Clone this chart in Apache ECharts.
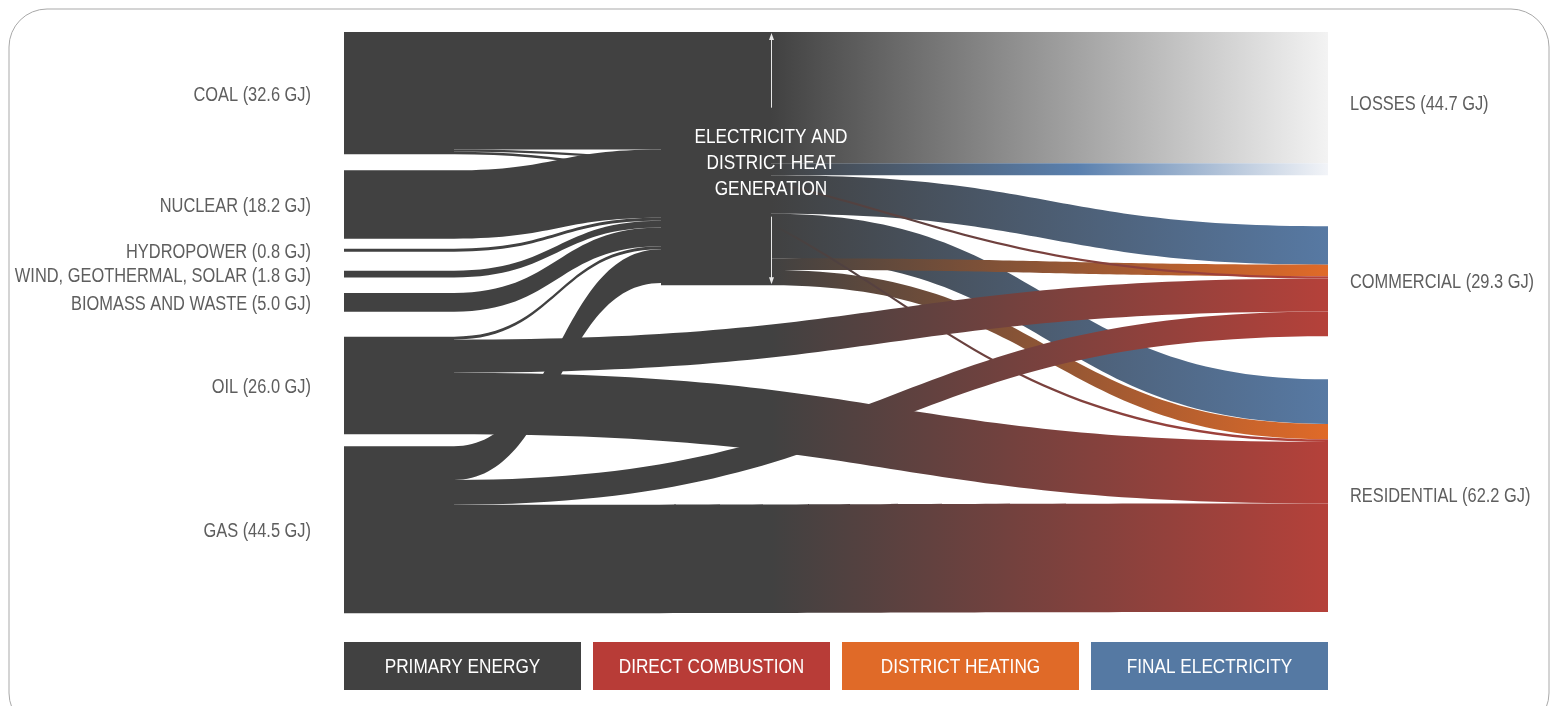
<!DOCTYPE html>
<html><head><meta charset="utf-8">
<script src="https://cdn.jsdelivr.net/npm/echarts@6/dist/echarts.min.js"></script>
<style>html,body{margin:0;padding:0;background:#fff}#c{width:1558px;height:706px}</style>
</head><body><div id="c"></div>
<script>
// ---------------- data (GJ) ----------------
const sources = ['COAL', 'NUCLEAR', 'HYDROPOWER', 'WIND, GEOTHERMAL, SOLAR', 'BIOMASS AND WASTE', 'OIL', 'GAS'];
const sourceLabelValues = [32.6, 18.2, 0.8, 1.8, 5.0, 26.0, 44.5];
const toGeneration  = [31.3, 18.2, 0.8, 1.8, 5.0, 0.8, 9.0];
const toCommercial  = [0.6, 0, 0, 0, 0, 8.8, 6.6];
const toResidential = [0.7, 0, 0, 0, 0, 16.4, 28.9];
const hubLabel = ['ELECTRICITY AND', 'DISTRICT HEAT', 'GENERATION'];
const sinks = ['LOSSES', 'COMMERCIAL', 'RESIDENTIAL'];
const sinkLabelValues = [44.7, 29.3, 62.2];
const generationLosses = [35.0, 3.2];        // conversion losses, electricity losses
const generationElectricity = [10.2, 11.9];  // commercial, residential
const generationHeat = [3.1, 4.1];           // commercial, residential
const legendNames = ['PRIMARY ENERGY', 'DIRECT COMBUSTION', 'DISTRICT HEATING', 'FINAL ELECTRICITY'];

// ---------------- styles / layout ----------------
const DARK = '#414141', RED = '#b5413a', ORANGE = '#e06a28', BLUE = '#5779a3';
const legendColors = [DARK, '#b83c37', '#e06a28', '#5579a3'];
const FONT = "'Liberation Sans', Arial, sans-serif";
const NARROW = 0.82;            // horizontal squeeze to mimic the condensed face
const TEXT_GREY = '#5e5e5e';
const L = 344, T = 32, W = 984, H = 492, NW = 110, GAP = 1;
const HUB_RIGHT = 771;
const leftGaps = [16, 10, 19, 15.5, 25, 12];
const LOSS_GAP = 51, GROUP_GAP = 43;
const LEFT_LABEL_X = 311, RIGHT_LABEL_X = 1350;

// ---------------- links ----------------
const links = [];
const kinds = [];
sources.forEach((s, i) => { if (toGeneration[i] > 0) { links.push({source: s, target: 'HUB', value: toGeneration[i]}); kinds.push('gen'); } });
links.push({source: 'HUB', target: 'LOSSES', value: generationLosses[0]}); kinds.push('loss');
links.push({source: 'HUB', target: 'LOSSES', value: generationLosses[1]}); kinds.push('lossE');
links.push({source: 'HUB', target: 'COM_E', value: generationElectricity[0]}); kinds.push('elec');
links.push({source: 'HUB', target: 'RES_E', value: generationElectricity[1]}); kinds.push('elec');
links.push({source: 'HUB', target: 'COM_H', value: generationHeat[0]}); kinds.push('heat');
links.push({source: 'HUB', target: 'RES_H', value: generationHeat[1]}); kinds.push('heat');
sources.forEach((s, i) => {
  if (toCommercial[i] > 0) { links.push({source: s, target: 'COM_D', value: toCommercial[i]}); kinds.push('direct'); }
  if (toResidential[i] > 0) { links.push({source: s, target: 'RES_D', value: toResidential[i]}); kinds.push('direct'); }
});

// node values like echarts: max(in, out)
const inSum = {}, outSum = {};
links.forEach(l => { outSum[l.source] = (outSum[l.source] || 0) + l.value; inSum[l.target] = (inSum[l.target] || 0) + l.value; });
const val = n => Math.max(inSum[n] || 0, outSum[n] || 0);

const rightLayoutOrder = ['LOSSES', 'COM_E', 'RES_E', 'COM_H', 'RES_H', 'COM_D', 'RES_D'];
const rightRenderOrder = ['LOSSES', 'COM_E', 'COM_H', 'COM_D', 'RES_E', 'RES_H', 'RES_D'];
const columns = [sources, ['HUB'], rightLayoutOrder];
const ky = Math.min(...columns.map(col => (H - (col.length - 1) * GAP) / col.reduce((a, n) => a + val(n), 0)));

const tops = {};
let y = T;
sources.forEach((s, i) => { tops[s] = y; y += val(s) * ky + (leftGaps[i] || 0); });
tops.HUB = T;
y = T;
rightRenderOrder.forEach(n => {
  tops[n] = y; y += val(n) * ky;
  if (n === 'LOSSES') y += LOSS_GAP;
  if (n === 'COM_D') y += GROUP_GAP;
});

const nodes = [];
sources.forEach(s => nodes.push({
  name: s, depth: 0, localX: 0, localY: (tops[s] - T) / H,
  itemStyle: {color: DARK, borderWidth: 0}
}));
nodes.push({
  name: 'HUB', depth: 1, localX: (HUB_RIGHT - NW - L) / W, localY: 0,
  itemStyle: {color: DARK, borderWidth: 0}
});
rightLayoutOrder.forEach(n => nodes.push({
  name: n, depth: 2, localX: 1, localY: (tops[n] - T) / H,
  itemStyle: {color: 'rgba(0,0,0,0)', borderWidth: 0}
}));

// gradients
const x1Direct = L + NW, x2Right = L + W;
const darkStop = (HUB_RIGHT - x1Direct) / (x2Right - x1Direct);
const grad = stops => ({type: 'linear', x: 0, y: 0, x2: 1, y2: 0, colorStops: stops.map(s => ({offset: s[0], color: s[1]}))});
const linkColor = {
  gen: DARK,
  loss: grad([[0, DARK], [1, '#f3f3f3']]),
  lossE: grad([[0, DARK], [0.55, '#5a80ae'], [1, '#f2f4f8']]),
  elec: grad([[0, DARK], [1, BLUE]]),
  heat: grad([[0, DARK], [1, ORANGE]]),
  direct: grad([[0, DARK], [darkStop, DARK], [1, RED]])
};
links.forEach((l, i) => { l.lineStyle = {color: linkColor[kinds[i]], opacity: 1}; });

// ---------------- text, annotation arrow, legend, frame ----------------
const textEl = (txt, x, yy, size, color, align) => ({
  type: 'text', x: x, y: yy, scaleX: NARROW, z: 200,
  style: {text: txt, x: 0, y: 0, font: size + 'px ' + FONT, fill: color, align: align, verticalAlign: 'middle'}
});
const graphics = [
  {type: 'rect', shape: {x: 9, y: 9, width: 1540, height: 722, r: 38}, style: {fill: 'none', stroke: '#a9a9a9', lineWidth: 1}, z: 0}
];
sources.forEach((s, i) => {
  graphics.push(textEl(s + ' (' + sourceLabelValues[i].toFixed(1) + ' GJ)', LEFT_LABEL_X, tops[s] + val(s) * ky / 2 + 2, 20, TEXT_GREY, 'right'));
});
const sinkGroups = [['LOSSES'], ['COM_E', 'COM_H', 'COM_D'], ['RES_E', 'RES_H', 'RES_D']];
sinks.forEach((s, i) => {
  const g = sinkGroups[i];
  const gh = g.reduce((a, m) => a + val(m), 0) * ky;
  graphics.push(textEl(s + ' (' + sinkLabelValues[i].toFixed(1) + ' GJ)', RIGHT_LABEL_X, tops[g[0]] + gh / 2 + 1, 20, TEXT_GREY, 'left'));
});
const hubH = val('HUB') * ky;
const labelC = T + hubH / 2 + 5;
hubLabel.forEach((t, i) => graphics.push(textEl(t, HUB_RIGHT, labelC + (i - 1) * 26, 21, '#ffffff', 'center')));

const ax = HUB_RIGHT + 0.5;
const arrowColor = '#e8e8e8';
graphics.push(
  {type: 'line', shape: {x1: ax, y1: T + 5, x2: ax, y2: labelC - 56}, style: {stroke: arrowColor, lineWidth: 1}, z: 100},
  {type: 'polygon', shape: {points: [[ax, T + 1], [ax - 2.5, T + 8], [ax + 2.5, T + 8]]}, style: {fill: arrowColor}, z: 100},
  {type: 'line', shape: {x1: ax, y1: labelC + 53, x2: ax, y2: T + hubH - 5}, style: {stroke: arrowColor, lineWidth: 1}, z: 100},
  {type: 'polygon', shape: {points: [[ax, T + hubH - 1], [ax - 2.5, T + hubH - 8], [ax + 2.5, T + hubH - 8]]}, style: {fill: arrowColor}, z: 100}
);

const LEG_Y = 642, LEG_H = 48, LEG_GAP = 12;
const legW = (W - LEG_GAP * (legendNames.length - 1)) / legendNames.length;
legendNames.forEach((n, i) => {
  const lx = L + i * (legW + LEG_GAP);
  graphics.push({type: 'rect', shape: {x: lx, y: LEG_Y, width: legW, height: LEG_H}, style: {fill: legendColors[i]}, z: 100});
  graphics.push(textEl(n, lx + legW / 2, LEG_Y + LEG_H / 2 + 1, 21, '#ffffff', 'center'));
});

const chart = echarts.init(document.getElementById('c'), null, {renderer: 'canvas'});
chart.setOption({
  backgroundColor: '#ffffff',
  animation: false,
  graphic: {elements: graphics},
  series: [{
    type: 'sankey',
    left: L, top: T, width: W, height: H,
    nodeWidth: NW, nodeGap: GAP, layoutIterations: 0, draggable: false, nodeAlign: 'left',
    data: nodes, links: links,
    label: {show: false},
    lineStyle: {opacity: 1, curveness: 0.5},
    itemStyle: {borderWidth: 0},
    emphasis: {disabled: true},
    z: 2
  }]
});
</script></body></html>
